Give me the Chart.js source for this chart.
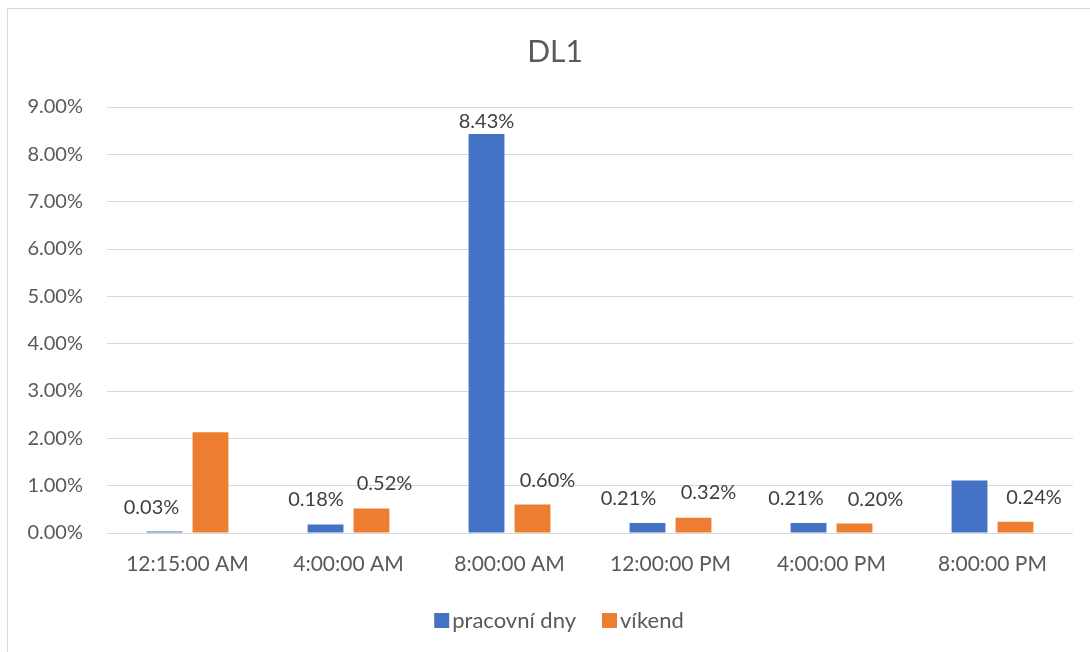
<!DOCTYPE html>
<html>
<head>
<meta charset="utf-8">
<script src="https://cdn.jsdelivr.net/npm/chart.js@4.4.1/dist/chart.umd.min.js"></script>
<style>
  html, body { margin: 0; padding: 0; background: #fff; overflow: hidden; width: 1090px; height: 652px; }
  #frame { position: absolute; left: 7px; top: 8px; width: 1094px; height: 680px; border: 1px solid #d9d9d9; background: #fff; }
  canvas { display: block; }
</style>
</head>
<body>
<div id="frame"><canvas id="chart" width="1094" height="680"></canvas></div>
<script>
// Share of traffic (%) per time of day, workdays vs weekend
const categories = ['12:15:00 AM', '4:00:00 AM', '8:00:00 AM', '12:00:00 PM', '4:00:00 PM', '8:00:00 PM'];
const workdays = [0.03, 0.18, 8.43, 0.21, 0.21, 1.11];
const weekend = [2.13, 0.52, 0.60, 0.32, 0.20, 0.24];
const seriesNames = ['pracovní dny', 'víkend'];
const chartTitle = 'DL1';
const yMin = 0;
const yMax = 9;
const yStep = 1;

const FONT = 'Lato, "Liberation Sans", sans-serif';
const TEXT = '#595959';
const LABEL_TEXT = '#404040';
const COLORS = ['#4472C4', '#ED7D31'];

const pct = v => v.toFixed(2) + '%';

// Title centred across the whole chart box
const centredTitle = {
  id: 'centredTitle',
  afterDraw(chart, args, opts) {
    const ctx = chart.ctx;
    ctx.save();
    ctx.font = opts.size + 'px ' + FONT;
    ctx.fillStyle = opts.color;
    ctx.textAlign = 'center';
    ctx.textBaseline = 'middle';
    ctx.fillText(opts.text, chart.width / 2, opts.y);
    ctx.restore();
  }
};

// Value labels above each bar, nudged sideways so neighbours do not collide
const valueLabels = {
  id: 'valueLabels',
  afterDatasetsDraw(chart, args, opts) {
    const ctx = chart.ctx;
    ctx.save();
    ctx.font = opts.size + 'px ' + FONT;
    ctx.fillStyle = opts.color;
    ctx.textAlign = 'center';
    ctx.textBaseline = 'middle';
    chart.data.datasets.forEach((ds, di) => {
      const meta = chart.getDatasetMeta(di);
      meta.data.forEach((bar, i) => {
        if (opts.hidden[di].includes(i)) return;
        const [dx, dy] = opts.shift[di][i];
        ctx.fillText(pct(ds.data[i]), bar.x + dx, bar.y + dy);
      });
    });
    ctx.restore();
  }
};

// Legend row centred under the plot
const bottomLegend = {
  id: 'bottomLegend',
  afterDraw(chart, args, opts) {
    const ctx = chart.ctx;
    ctx.save();
    ctx.font = opts.size + 'px ' + FONT;
    ctx.textBaseline = 'middle';
    ctx.textAlign = 'left';
    const items = chart.data.datasets.map(ds => ({
      text: ds.label, color: ds.backgroundColor, w: ctx.measureText(ds.label).width
    }));
    const total = items.reduce((s, it) => s + opts.box + opts.gap + it.w, 0) + opts.spacing * (items.length - 1);
    let x = chart.width / 2 - total / 2 + opts.offsetX;
    const y = chart.chartArea.bottom + opts.offsetY;
    items.forEach(it => {
      ctx.fillStyle = it.color;
      ctx.fillRect(x, y - opts.box / 2, opts.box, opts.box);
      x += opts.box + opts.gap;
      ctx.fillStyle = opts.color;
      ctx.fillText(it.text, x, y);
      x += it.w + opts.spacing;
    });
    ctx.restore();
  }
};

new Chart(document.getElementById('chart'), {
  type: 'bar',
  data: {
    labels: categories,
    datasets: [
      { label: seriesNames[0], data: workdays, backgroundColor: COLORS[0] },
      { label: seriesNames[1], data: weekend, backgroundColor: COLORS[1] }
    ]
  },
  options: {
    responsive: false,
    animation: false,
    devicePixelRatio: 1,
    categoryPercentage: 0.571,
    barPercentage: 0.78,
    layout: { padding: { top: 98, left: 0, right: 29, bottom: 106 } },
    plugins: {
      legend: { display: false },
      title: { display: false },
      tooltip: { enabled: false },
      centredTitle: { text: chartTitle, size: 30, color: TEXT, y: 43 },
      valueLabels: {
        size: 20,
        color: LABEL_TEXT,
        hidden: [[5], [0]],
        shift: [
          [[-13, -24.5], [-9.5, -24.5], [0, -12], [-19, -25], [-12.5, -24.5], [0, 0]],
          [[0, 0], [13, -24.5], [15, -24], [15, -25], [21, -24], [18.5, -24.5]]
        ]
      },
      bottomLegend: { size: 22, color: TEXT, box: 15, gap: 3, spacing: 26, offsetX: 4, offsetY: 87.5 }
    },
    scales: {
      x: {
        grid: { display: false, drawTicks: false },
        border: { display: false },
        ticks: { color: TEXT, font: { family: FONT, size: 21 }, padding: 19, maxRotation: 0 },
        afterFit(scale) { scale.height = 50; }
      },
      y: {
        min: yMin,
        max: yMax,
        grid: { color: '#d9d9d9', lineWidth: 1, drawTicks: false },
        border: { display: false },
        ticks: {
          stepSize: yStep,
          color: TEXT,
          font: { family: FONT, size: 20 },
          padding: 24,
          callback: v => pct(v)
        },
        afterFit(scale) { scale.width = 99; }
      }
    }
  },
  plugins: [centredTitle, valueLabels, bottomLegend]
});
</script>
</body>
</html>
